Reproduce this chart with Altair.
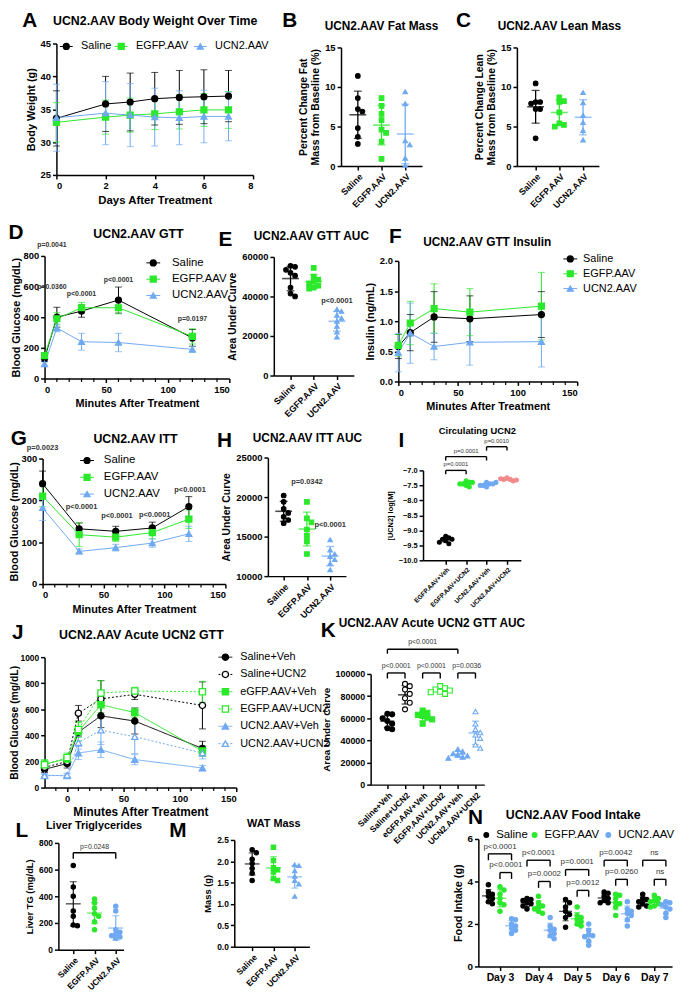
import altair as alt
import numpy as np
import pandas as pd

FONT = "Liberation Sans"
BLACK = "#000000"
GREEN = "#2be82b"
BLUE = "#6fa9f2"
SALMON = "#f28a8a"
WHITE = "#ffffff"

G3 = ["Saline", "EGFP.AAV", "UCN2.AAV"]
C3 = [BLACK, GREEN, BLUE]
S3 = ["circle", "square", "triangle-up"]

# ---------------- data ----------------
# A body weight
bw_days = [0, 2, 3, 4, 5, 6, 7]
bw_saline = [33.6, 35.8, 36.1, 36.6, 36.8, 36.9, 37.0]
bw_saline_sd = [4.2, 4.2, 4.4, 4.0, 4.1, 4.1, 3.9]
bw_egfp = [33.0, 33.8, 34.1, 34.3, 34.6, 34.9, 34.9]
bw_egfp_sd = [3.0, 2.6, 2.6, 2.4, 2.6, 2.5, 2.8]
bw_ucn2 = [33.7, 34.4, 34.1, 33.8, 33.7, 33.9, 33.9]
bw_ucn2_sd = [5.1, 4.8, 4.8, 4.4, 4.1, 4.0, 3.7]

# B fat mass
fat_saline = [11.4, 8.6, 7.2, 6.9, 4.8, 3.7, 2.8]
fat_egfp = [8.6, 7.6, 6.6, 5.8, 4.6, 4.2, 3.1, 0.9]
fat_ucn2 = [9.4, 7.9, 3.2, 2.7, 1.0, 0.1]

# C lean mass
lean_saline = [10.45, 8.1, 8.1, 7.9, 7.2, 7.2, 3.5]
lean_egfp = [8.7, 8.2, 8.1, 6.8, 5.4, 5.2, 5.0]
lean_ucn2 = [9.3, 8.0, 6.4, 5.5, 4.5, 3.3]

# D GTT
gtt_min = [0, 10, 30, 60, 120]
gtt_saline = [130, 400, 440, 512, 265]
gtt_saline_sd = [20, 65, 40, 85, 55]
gtt_egfp = [150, 390, 462, 462, 275]
gtt_egfp_sd = [20, 40, 35, 40, 50]
gtt_ucn2 = [95, 330, 240, 235, 190]
gtt_ucn2_sd = [15, 25, 55, 60, 20]
gtt_p = [(6, 870, "p=0.0041"), (6, 600, "p=0.0360"), (30, 550, "p<0.0001"),
         (60, 645, "p<0.0001"), (120, 387, "p=0.0197")]

# E GTT AUC
gauc_saline = [55500, 55000, 53500, 52000, 50500, 44500, 41500, 40000]
gauc_egfp = [54500, 50000, 48500, 47500, 46500, 45500, 44500, 44000]
gauc_ucn2 = [33500, 32500, 30500, 29000, 27500, 25000, 22000, 19500]
gauc_p = [(3, 35500, "p<0.0001")]

# F insulin
ins_min = [0, 10, 30, 60, 120]
ins_saline = [0.58, 0.81, 1.07, 1.04, 1.11]
ins_saline_sd = [0.2, 0.3, 0.42, 0.38, 0.38]
ins_egfp = [0.6, 0.97, 1.21, 1.15, 1.25]
ins_egfp_sd = [0.18, 0.36, 0.41, 0.39, 0.56]
ins_ucn2 = [0.48, 0.8, 0.58, 0.65, 0.66]
ins_ucn2_sd = [0.32, 0.5, 0.22, 0.38, 0.42]

# G ITT
itt_min = [0, 30, 60, 90, 120]
itt_saline = [240, 132, 126, 134, 185]
itt_saline_sd = [30, 14, 12, 14, 24]
itt_egfp = [210, 118, 112, 123, 155]
itt_egfp_sd = [25, 28, 10, 15, 22]
itt_ucn2 = [182, 78, 87, 98, 120]
itt_ucn2_sd = [30, 6, 8, 10, 18]
itt_p = [(0, 325, "p=0.0023"), (32, 184, "p<0.0001"), (61, 163, "p<0.0001"),
         (92, 165, "p<0.0001"), (121, 224, "p<0.0001")]

# H ITT AUC
iauc_saline = [20200, 19400, 18500, 18000, 17500, 17100, 16700]
iauc_egfp = [19400, 17300, 16800, 15900, 15100, 14400, 12800]
iauc_ucn2 = [14600, 13300, 12800, 12500, 12100, 11600, 10800]
iauc_p = [(2, 21400, "p=0.0342"), (3, 16000, "p<0.0001")]

# I circulating UCN2
circ_groups = ["EGFP.AAV+Veh", "EGFP.AAV+UCN2", "UCN2.AAV+Veh", "UCN2.AAV+UCN2"]
circ_egfp_veh = [-9.2, -9.25, -9.3, -9.35, -9.3, -9.45, -9.4]
circ_egfp_ucn2 = [-7.35, -7.4, -7.45, -7.5, -7.4, -7.55, -7.45]
circ_ucn2_veh = [-7.4, -7.45, -7.5, -7.55, -7.45, -7.5, -7.4]
circ_ucn2_ucn2 = [-7.25, -7.3, -7.3, -7.35, -7.28, -7.32]
circ_br = [(1, 2, -7.0, 0.13, "p=0.0001", -6.9), (1, 3, -6.54, 0.13, "p=0.0001", -6.44),
           (3, 4, -6.21, 0.13, "p=0.0010", -6.11)]

# J acute UCN2 GTT
j_groups = ["Saline+Veh", "Saline+UCN2", "eGFP.AAV+Veh", "EGFP.AAV+UCN2",
            "UCN2.AAV+Veh", "UCN2.AAV+UCN2"]
j_min = [-20, 0, 10, 30, 60, 120]
j_sal_veh = [140, 185, 425, 550, 510, 300]
j_sal_veh_sd = [25, 35, 30, 90, 100, 55]
j_sal_ucn2 = [155, 200, 570, 680, 715, 630]
j_sal_ucn2_sd = [20, 30, 60, 140, 40, 180]
j_egfp_veh = [180, 220, 430, 635, 575, 280]
j_egfp_veh_sd = [35, 30, 70, 60, 35, 40]
j_egfp_ucn2 = [175, 230, 445, 725, 740, 735]
j_egfp_ucn2_sd = [25, 35, 60, 95, 30, 80]
j_ucn2_veh = [95, 90, 265, 290, 215, 150]
j_ucn2_veh_sd = [15, 15, 50, 60, 40, 20]
j_ucn2_ucn2 = [90, 95, 345, 440, 390, 265]
j_ucn2_ucn2_sd = [10, 15, 50, 110, 130, 45]

# K acute AUC
k_groups = ["Saline+Veh", "Saline+UCN2", "eGFP.AAV+Veh", "EGFP.AAV+UCN2",
            "UCN2.AAV+Veh", "UCN2.AAV+UCN2"]
k_sal_veh = [64000, 63500, 60000, 57500, 55000, 51000, 50000]
k_sal_ucn2 = [91000, 89000, 86000, 82000, 78000, 74000, 68000]
k_egfp_veh = [67000, 65000, 63000, 62000, 60500, 59000, 55000]
k_egfp_ucn2 = [89000, 87000, 86000, 85000, 84000, 83500, 82000]
k_ucn2_veh = [32000, 30000, 28000, 27000, 26000, 25000, 24000]
k_ucn2_ucn2 = [66000, 55000, 50000, 47000, 45000, 42000, 36000, 33000]
k_br = [(1, 2, 100900, 5000, "p<0.0001", 104500), (3, 4, 100900, 5000, "p<0.0001", 104500),
        (5, 6, 100900, 5000, "p=0.0036", 104500), (1, 5, 122300, 4000, "p<0.0001", 126000)]

# L liver TG
tg_saline = [630, 470, 400, 290, 250, 185, 180]
tg_egfp = [380, 350, 310, 270, 250, 210, 150]
tg_ucn2 = [325, 290, 150, 130, 115, 105, 95, 85]
tg_br = [(1, 3, 726, 45, "p=0.0248", 750)]

# M WAT mass
wat_saline = [2.27, 2.2, 2.05, 1.95, 1.83, 1.72, 1.55]
wat_egfp = [2.33, 2.02, 1.85, 1.8, 1.75, 1.6, 1.55]
wat_ucn2 = [1.92, 1.9, 1.78, 1.65, 1.55, 1.47, 1.18]

# N food intake
fi_days = [3, 4, 5, 6, 7]
fi_saline = [[3.85, 3.5, 3.4, 3.3, 3.2, 3.05, 2.95],
             [3.2, 3.15, 3.1, 3.0, 2.95, 2.85, 2.7],
             [3.15, 3.0, 2.8, 2.6, 2.45, 2.3, 1.85],
             [3.5, 3.45, 3.3, 3.2, 3.1, 3.0, 3.0],
             [3.4, 3.2, 3.15, 3.05, 2.95, 2.85, 2.8]]
fi_egfp = [[3.75, 3.6, 3.4, 3.2, 3.0, 2.9, 2.6],
           [3.3, 3.0, 2.85, 2.8, 2.7, 2.6, 2.5],
           [2.8, 2.4, 2.3, 2.2, 2.1, 2.0, 1.9],
           [3.4, 3.35, 3.2, 3.0, 2.95, 2.8, 2.4],
           [3.35, 3.2, 3.1, 3.05, 2.95, 2.85, 2.8]]
fi_ucn2 = [[2.25, 2.2, 2.0, 1.9, 1.8, 1.7, 1.55],
           [2.3, 1.9, 1.75, 1.7, 1.55, 1.45, 1.3],
           [2.0, 1.7, 1.5, 1.45, 1.4, 1.2, 1.0],
           [3.05, 2.7, 2.6, 2.5, 2.4, 2.2, 1.9],
           [3.05, 3.0, 2.9, 2.8, 2.7, 2.5, 2.3]]
fi_top = [(5.3, 5.45, "p<0.0001"), (5.0, 5.15, "p<0.0001"), (4.56, 4.71, "p=0.0001"),
          (5.0, 5.15, "p=0.0042"), (5.0, 5.15, "ns")]
fi_low = [(4.42, 4.57, "p<0.0001"), (4.0, 4.15, "p=0.0002"), (3.58, 3.73, "p=0.0012"),
          (4.1, 4.25, "p=0.0260"), (4.1, 4.25, "ns")]

# ---------------- canvas / helpers ----------------
CW, CH = 676, 991   # drawing area (page minus the 8px top/left margin)
M0 = 8
ONE = pd.DataFrame({"a": [0]})

AW = dict(zip("ABCDEFGHIJKLMNOPQRSTUVWXYZ",
              [.667, .667, .722, .722, .667, .611, .778, .722, .278, .5, .667, .556, .833, .722, .778,
               .667, .778, .722, .667, .611, .722, .667, .944, .667, .667, .611]))
AW.update(dict(zip("abcdefghijklmnopqrstuvwxyz",
                   [.556, .556, .5, .556, .556, .278, .556, .556, .222, .222, .5, .222, .833, .556, .556,
                    .556, .556, .333, .5, .278, .556, .5, .722, .5, .5, .5])))
AW.update({c: .556 for c in "0123456789"})
AW.update({".": .278, "+": .584, " ": .278})


def tw(s, size):
    return sum(AW.get(c, 0.6) for c in s) * size


def label(text, x, y, size=12.5, weight="bold", color="black", align="center"):
    return alt.Chart(ONE).mark_text(text=text, fontSize=size, fontWeight=weight, font=FONT,
                                    color=color, align=align, baseline="middle").encode(
        x=alt.value(x - M0), y=alt.value(y - M0))


def frame(bx, xdom, ydom):
    l, t, w, h = bx
    x0, y0 = l - M0, t - M0
    xs = alt.Scale(domain=xdom, range=[x0, x0 + w], nice=False, zero=False)
    ys = alt.Scale(domain=ydom, range=[y0 + h, y0], nice=False, zero=False)
    return xs, ys, x0, y0 + h


def swarm(vals, cx, xpx, ypx, r):
    placed, xs = [], []
    for v in vals:
        x = cx
        for k in [0, 1, -1, 2, -2, 3, -3, 4, -4]:
            x = cx + k * r / xpx
            if all(((x - a) * xpx) ** 2 + ((v - b) * ypx) ** 2 >= (r * 0.95) ** 2 for a, b in placed):
                break
        placed.append((x, v))
        xs.append(x)
    return xs


def legend_block(names, strokes, fills, shapes, pos, dashes=None, size=11.5, seg=7, toff=15, psize=36,
                 line=True):
    df = pd.DataFrame({"g": names, "x": [p[0] - M0 for p in pos], "y": [p[1] - M0 for p in pos]})
    df["x1"], df["x2"], df["xt"] = df.x - seg, df.x + seg, df.x + toff
    xs = alt.Scale(domain=[0, CW], range=[0, CW], nice=False, zero=False)
    ys = alt.Scale(domain=[0, CH], range=[0, CH], nice=False, zero=False)

    def X(f):
        return alt.X(f, type="quantitative", scale=xs, axis=None)

    def Y(f):
        return alt.Y(f, type="quantitative", scale=ys, axis=None)

    col = alt.Color("g:N", scale=alt.Scale(domain=names, range=strokes), legend=None)
    layers = []
    if line:
        enc = dict(x=X("x1"), x2="x2:Q", y=Y("y"), color=col)
        if dashes:
            enc["strokeDash"] = alt.StrokeDash("g:N", scale=alt.Scale(domain=names, range=dashes), legend=None)
        layers.append(alt.Chart(df).mark_rule(strokeWidth=1.0).encode(**enc))
    layers.append(alt.Chart(df).mark_point(filled=True, size=psize, strokeWidth=1.3, opacity=1).encode(
        x=X("x"), y=Y("y"),
        fill=alt.Fill("g:N", scale=alt.Scale(domain=names, range=fills), legend=None),
        stroke=alt.Stroke("g:N", scale=alt.Scale(domain=names, range=strokes), legend=None),
        shape=alt.Shape("g:N", scale=alt.Scale(domain=names, range=shapes), legend=None)))
    layers.append(alt.Chart(df).mark_text(fontSize=size, font=FONT, color="black", align="left",
                                          baseline="middle").encode(x=X("xt"), y=Y("y"), text="g:N"))
    return alt.layer(*layers)


def hpos(names, x0, y, size, toff, gap):
    out, x = [], x0
    for n in names:
        out.append((x, y))
        x = x + toff + tw(n, size) + gap
    return out


def vpos(n, x, y0, dy):
    return [(x, y0 + i * dy) for i in range(n)]


def dot_panel(bx, items, names, strokes, fills, shapes, xdom, xvals, lexpr, ydom, yvals, ytitle,
              yfmt=None, brackets=(), bsize=7.5, notes=(), nsize=7.5, psize=22, r=4.6, mean_w=17, cap_w=8,
              xlab=9, xangle=-45, ylab=9.5, ytsize=10.5, lw=1.3, ytpad=4):
    l, t, w, h = bx
    xs_, ys_, ax_x, ax_y = frame(bx, xdom, ydom)
    xpx = w / (xdom[1] - xdom[0])
    ypx = h / (ydom[1] - ydom[0])
    pts, st = [], []
    for cx, vals, nm in items:
        xs = swarm(vals, cx, xpx, ypx, r)
        for x, v in zip(xs, vals):
            pts.append({"x": x, "y": v, "g": nm})
        a = np.array(vals, float)
        m, s = a.mean(), a.std(ddof=1)
        st.append({"x": cx, "m": m, "lo": m - s, "hi": m + s, "g": nm})
    pdf, sdf = pd.DataFrame(pts), pd.DataFrame(st)
    cdf = pd.concat([sdf.assign(y=sdf.lo), sdf.assign(y=sdf.hi)])
    xax = alt.Axis(orient="bottom", offset=ax_y - CH, values=xvals, labelExpr=lexpr, title=None,
                   labelAngle=xangle, labelFontSize=xlab)
    ykw = {"format": yfmt} if yfmt else {}
    yax = alt.Axis(orient="left", offset=-ax_x, values=yvals, title=ytitle, labelFontSize=ylab,
                   titleFontSize=ytsize, titlePadding=ytpad, **ykw)

    def X(f):
        return alt.X(f, type="quantitative", scale=xs_, axis=xax)

    def Y(f):
        return alt.Y(f, type="quantitative", scale=ys_, axis=yax)

    col = alt.Color("g:N", scale=alt.Scale(domain=names, range=strokes), legend=None)
    layers = [
        alt.Chart(sdf).mark_rule(strokeWidth=lw).encode(x=X("x"), y=Y("lo"), y2="hi:Q", color=col),
        alt.Chart(cdf).mark_tick(orient="horizontal", size=cap_w, thickness=lw).encode(
            x=X("x"), y=Y("y"), color=col),
        alt.Chart(sdf).mark_tick(orient="horizontal", size=mean_w, thickness=lw + 0.3).encode(
            x=X("x"), y=Y("m"), color=col),
        alt.Chart(pdf).mark_point(filled=True, size=psize, strokeWidth=1.1, opacity=1).encode(
            x=X("x"), y=Y("y"),
            fill=alt.Fill("g:N", scale=alt.Scale(domain=names, range=fills), legend=None),
            stroke=alt.Stroke("g:N", scale=alt.Scale(domain=names, range=strokes), legend=None),
            shape=alt.Shape("g:N", scale=alt.Scale(domain=names, range=shapes), legend=None)),
    ]
    if brackets:
        bdf = pd.DataFrame([{"x1": a, "x2": b, "y": y, "yl": y - lg, "t": tx, "xm": (a + b) / 2, "yt": yt}
                            for a, b, y, lg, tx, yt in brackets])
        layers += [
            alt.Chart(bdf).mark_rule(strokeWidth=1.4, color="black").encode(x=X("x1"), x2="x2:Q", y=Y("y")),
            alt.Chart(bdf).mark_rule(strokeWidth=1.4, color="black").encode(x=X("x1"), y=Y("y"), y2="yl:Q"),
            alt.Chart(bdf).mark_rule(strokeWidth=1.4, color="black").encode(x=X("x2"), y=Y("y"), y2="yl:Q"),
            alt.Chart(bdf).mark_text(fontSize=bsize, color="#333333", baseline="bottom").encode(
                x=X("xm"), y=Y("yt"), text="t:N"),
        ]
    if notes:
        ndf = pd.DataFrame([{"x": a, "y": b, "t": c} for a, b, c in notes])
        layers.append(alt.Chart(ndf).mark_text(fontSize=nsize, fontWeight="bold", color="#333333",
                                               baseline="bottom").encode(x=X("x"), y=Y("y"), text="t:N"))
    return alt.layer(*layers)


def line_panel(bx, xv, names, means, sds, strokes, fills, shapes, xdom, xvals, xtitle, ydom, yvals,
               ytitle, dashes=None, yfmt=None, notes=(), minor=None, psize=36, cap_w=7,
               lw=1.0, xtsize=11, ytsize=11, ytpad=4, ylab=9.5, nsize=7.5):
    xs_, ys_, ax_x, ax_y = frame(bx, xdom, ydom)
    rows = []
    for nm, ms, ss in zip(names, means, sds):
        for t, m, s in zip(xv, ms, ss):
            rows.append({"t": t, "m": m, "lo": m - s, "hi": m + s, "s": nm})
    df = pd.DataFrame(rows)
    caps = pd.concat([df.assign(y=df.lo), df.assign(y=df.hi)])
    xax = alt.Axis(orient="bottom", offset=ax_y - CH, values=xvals, title=xtitle, titleFontSize=xtsize)
    ykw = {"format": yfmt} if yfmt else {}
    yax = alt.Axis(orient="left", offset=-ax_x, values=yvals, title=ytitle, titleFontSize=ytsize,
                   titlePadding=ytpad, labelFontSize=ylab, **ykw)
    X = alt.X("t:Q", scale=xs_, axis=xax)

    def Y(f):
        return alt.Y(f, type="quantitative", scale=ys_, axis=yax)

    col = alt.Color("s:N", scale=alt.Scale(domain=names, range=strokes), legend=None)
    layers = [
        alt.Chart(df).mark_rule(strokeWidth=lw).encode(x=X, y=Y("lo"), y2="hi:Q", color=col),
        alt.Chart(caps).mark_tick(orient="horizontal", size=cap_w, thickness=lw).encode(
            x=X, y=Y("y"), color=col),
    ]
    lenc = dict(x=X, y=Y("m"), color=col, order="t:Q")
    if dashes:
        lenc["strokeDash"] = alt.StrokeDash("s:N", scale=alt.Scale(domain=names, range=dashes), legend=None)
    layers.append(alt.Chart(df).mark_line(strokeWidth=lw).encode(**lenc))
    layers.append(alt.Chart(df).mark_point(filled=True, size=psize, strokeWidth=1.3, opacity=1).encode(
        x=X, y=Y("m"),
        fill=alt.Fill("s:N", scale=alt.Scale(domain=names, range=fills), legend=None),
        stroke=alt.Stroke("s:N", scale=alt.Scale(domain=names, range=strokes), legend=None),
        shape=alt.Shape("s:N", scale=alt.Scale(domain=names, range=shapes), legend=None)))
    if minor:
        mdf = pd.DataFrame({"t": minor, "b": [ydom[0]] * len(minor)})
        layers.append(alt.Chart(mdf).mark_rule(strokeWidth=1.2, color="black", y2Offset=3.5).encode(
            x=X, y=Y("b"), y2="b:Q"))
    if notes:
        ndf = pd.DataFrame([{"t": a, "y": b, "txt": c} for a, b, c in notes])
        layers.append(alt.Chart(ndf).mark_text(fontSize=nsize, fontWeight="bold", color="#333333").encode(
            x=X, y=Y("y"), text="txt:N"))
    return alt.layer(*layers)


def arr_expr(names):
    return "[" + ",".join("'%s'" % n for n in names) + "][datum.value - 1]"


def cat_items(groups, names):
    return [(i + 1, g, n) for i, (g, n) in enumerate(zip(groups, names))]


MIN150 = [v for v in range(10, 150, 10) if v % 50]
MINJ = [v for v in range(-10, 150, 10) if v % 50]

# ---------------- panels ----------------
pA = line_panel((57, 38, 199, 133), bw_days, G3, [bw_saline, bw_egfp, bw_ucn2],
                [bw_saline_sd, bw_egfp_sd, bw_ucn2_sd], C3, C3, S3, [0, 8], [0, 2, 4, 6, 8],
                "Days After Treatment", [25, 45], [25, 30, 35, 40, 45], "Body Weight (g)", xtsize=11.5)
lA = legend_block(G3, C3, C3, S3, hpos(G3, 67, 41, 11, 15, 10), size=11, seg=6.5)

pB = dot_panel((345, 42, 82, 120), cat_items([fat_saline, fat_egfp, fat_ucn2], G3), G3, C3, C3, S3,
               [0.29, 3.71], [1, 2, 3], arr_expr(G3), [0, 15], [0, 5, 10, 15],
               ["Percent Change Fat", "Mass from Baseline (%)"])

pC = dot_panel((523, 42, 83, 120), cat_items([lean_saline, lean_egfp, lean_ucn2], G3), G3, C3, C3, S3,
               [0.21, 3.67], [1, 2, 3], arr_expr(G3), [0, 15], [0, 5, 10, 15],
               ["Percent Change Lean", "Mass from Baseline (%)"])

pD = line_panel((45, 253, 187, 124), gtt_min, G3, [gtt_saline, gtt_egfp, gtt_ucn2],
                [gtt_saline_sd, gtt_egfp_sd, gtt_ucn2_sd], C3, C3, S3, [0, 150], [0, 50, 100, 150],
                "Minutes After Treatment", [0, 800], [0, 200, 400, 600, 800], "Blood Glucose (mg/dL)",
                notes=gtt_p, minor=MIN150, ytpad=2, nsize=7)
lD = legend_block(G3, C3, C3, S3, vpos(3, 155, 260, 16.5), toff=19)

pE = dot_panel((277, 254, 81, 120), cat_items([gauc_saline, gauc_egfp, gauc_ucn2], G3), G3, C3, C3, S3,
               [0.28, 3.73], [1, 2, 3], arr_expr(G3), [0, 60000], [0, 20000, 40000, 60000],
               "Area Under Curve", yfmt="d", notes=gauc_p, nsize=7.5)

pF = line_panel((403, 258, 181, 122), ins_min, G3, [ins_saline, ins_egfp, ins_ucn2],
                [ins_saline_sd, ins_egfp_sd, ins_ucn2_sd], C3, C3, S3, [0, 150], [0, 50, 100, 150],
                "Minutes After Treatment", [0, 2], [0, 0.5, 1.0, 1.5, 2.0], "Insulin (ng/mL)",
                yfmt=".1f", minor=MIN150)
lF = legend_block(G3, C3, C3, S3, vpos(3, 577, 256, 15), size=11, toff=13)

pG = line_panel((43, 458, 185, 127), itt_min, G3, [itt_saline, itt_egfp, itt_ucn2],
                [itt_saline_sd, itt_egfp_sd, itt_ucn2_sd], C3, C3, S3, [0, 150], [0, 50, 100, 150],
                "Minutes After Treatment", [0, 300], [0, 100, 200, 300], "Blood Glucose (mg/dL)",
                notes=itt_p, minor=MIN150, ytpad=2)
lG = legend_block(G3, C3, C3, S3, vpos(3, 88, 460, 17), toff=17)

pH = dot_panel((271, 457, 79, 120), cat_items([iauc_saline, iauc_egfp, iauc_ucn2], G3), G3, C3, C3, S3,
               [0.32, 3.68], [1, 2, 3], arr_expr(G3), [10000, 25000], [10000, 15000, 20000, 25000],
               "Area Under Curve", yfmt="d", notes=iauc_p)

pI = dot_panel((428, 470, 99, 91), cat_items([circ_egfp_veh, circ_egfp_ucn2, circ_ucn2_veh, circ_ucn2_ucn2],
                                            circ_groups),
               circ_groups, [BLACK, GREEN, BLUE, SALMON], [BLACK, GREEN, BLUE, SALMON],
               ["circle"] * 4, [-0.11, 4.68], [1, 2, 3, 4], arr_expr(circ_groups), [-10, -7],
               [-10, -9.5, -9, -8.5, -8, -7.5, -7], "[UCN2] log[M]", yfmt=".1f", brackets=circ_br,
               bsize=6, psize=16, r=3.2, mean_w=12, cap_w=6, xlab=6.5, ylab=7.5, ytsize=7.5, lw=1.0)

J_COL = [BLACK, BLACK, GREEN, GREEN, BLUE, BLUE]
J_FILL = [BLACK, WHITE, GREEN, WHITE, BLUE, WHITE]
J_SHP = ["circle", "circle", "square", "square", "triangle-up", "triangle-up"]
J_DASH = [[1, 0], [2, 2], [1, 0], [2, 2], [1, 0], [2, 2]]
pJ = line_panel((45, 659, 194, 132), j_min, j_groups,
                [j_sal_veh, j_sal_ucn2, j_egfp_veh, j_egfp_ucn2, j_ucn2_veh, j_ucn2_ucn2],
                [j_sal_veh_sd, j_sal_ucn2_sd, j_egfp_veh_sd, j_egfp_ucn2_sd, j_ucn2_veh_sd, j_ucn2_ucn2_sd],
                J_COL, J_FILL, J_SHP, [-20, 150], [0, 50, 100, 150], "Minutes After Treatment",
                [0, 1000], [0, 200, 400, 600, 800, 1000], "Blood Glucose (mg/dL)", yfmt="d",
                dashes=J_DASH, psize=40, minor=MINJ, xtsize=12, ytsize=10.5, ytpad=0, ylab=8.5)
lJ = legend_block(j_groups, J_COL, J_FILL, J_SHP, vpos(6, 228, 659, 17.5), dashes=J_DASH, size=11,
                  toff=15, psize=40)

pK = dot_panel((375, 676, 115, 112),
               cat_items([k_sal_veh, k_sal_ucn2, k_egfp_veh, k_egfp_ucn2, k_ucn2_veh, k_ucn2_ucn2], k_groups),
               k_groups, J_COL, J_FILL, J_SHP, [0.05, 6.5], [1, 2, 3, 4, 5, 6], arr_expr(k_groups),
               [0, 100000], [0, 20000, 40000, 60000, 80000, 100000], "Area Under Curve", yfmt="d",
               brackets=k_br, bsize=7, psize=26, r=4.8, mean_w=14, cap_w=7, xlab=8.5, ylab=9, ytsize=10)

pL = dot_panel((59, 847, 66, 108), cat_items([tg_saline, tg_egfp, tg_ucn2], G3), G3, C3, C3, ["circle"] * 3,
               [0.3, 3.37], [1, 2, 3], arr_expr(G3), [0, 800], [0, 200, 400, 600, 800],
               "Liver TG (mg/dL)", brackets=tg_br, bsize=7, psize=20, r=4.2,
               mean_w=15, cap_w=7, xlab=8.5, ylab=8.5, ytsize=9.5, lw=1.1)

pM = dot_panel((237, 844, 76, 108), cat_items([wat_saline, wat_egfp, wat_ucn2], G3), G3, C3, C3, S3,
               [0.16, 3.69], [1, 2, 3], arr_expr(G3), [0, 2.5], [0, 0.5, 1.0, 1.5, 2.0, 2.5],
               "Mass (g)", yfmt=".1f", psize=20, r=4.2, mean_w=15, cap_w=7, xlab=8.5, ylab=8.5,
               ytsize=9.5, lw=1.1)

n_items = []
OFF = [-0.3, 0.0, 0.3]
for di, d in enumerate(fi_days):
    for gi, src in enumerate([fi_saline, fi_egfp, fi_ucn2]):
        n_items.append((d + OFF[gi], src[di], G3[gi]))
n_br = []
for di, d in enumerate(fi_days):
    y, yt, tx = fi_top[di]
    n_br.append((d - 0.3, d + 0.3, y, 0.3, tx, yt))
    y, yt, tx = fi_low[di]
    n_br.append((d, d + 0.3, y, 0.3, tx, yt))
pN = dot_panel((484, 843, 196, 129), n_items, G3, C3, C3, ["circle"] * 3, [2.44, 7.46], fi_days,
               "'Day ' + datum.value", [0, 6], [0, 2, 4, 6], "Food Intake (g)", brackets=n_br, bsize=8,
               psize=20, r=4.0, mean_w=13, cap_w=6, xlab=10.5, xangle=0, ylab=10, ytsize=11, lw=1.1)
lN = legend_block(G3, C3, C3, ["circle"] * 3, hpos(G3, 492, 839, 11.5, 10, 7), size=11.5, toff=10,
                  psize=22, line=False)

texts = [
    label("UCN2.AAV Body Weight Over Time", 157, 15), label("A", 30, 15, 21),
    label("UCN2.AAV Fat Mass", 386, 20, 12), label("B", 293, 15, 21),
    label("UCN2.AAV Lean Mass", 566, 20, 12), label("C", 469, 15, 21),
    label("UCN2.AAV GTT", 140, 231), label("D", 16, 230, 21),
    label("UCN2.AAV GTT AUC", 315, 233, 12), label("E", 228, 237, 21),
    label("UCN2.AAV GTT Insulin", 493, 239, 12), label("F", 400, 234, 21),
    label("UCN2.AAV ITT", 137, 438), label("G", 19, 438, 21),
    label("UCN2.AAV ITT AUC", 311, 437, 12), label("H", 227, 440, 21),
    label("Circulating UCN2", 483, 430, 9.5), label("I", 406, 440, 21),
    label("UCN2.AAV Acute UCN2 GTT", 143, 637), label("J", 18, 635, 21),
    label("UCN2.AAV Acute UCN2 GTT AUC", 437, 624, 12), label("K", 332, 633, 21),
    label("Liver Triglycerides", 95, 830, 11), label("L", 22, 835, 21),
    label("WAT Mass", 277, 828, 11), label("M", 180, 835, 21),
    label("UCN2.AAV Food Intake", 580, 819), label("N", 481, 822, 21),
]

chart = alt.layer(pA, pB, pC, pD, pE, pF, pG, pH, pI, pJ, pK, pL, pM, pN,
                  lA, lD, lF, lG, lJ, lN, *texts).resolve_scale(
    x="independent", y="independent", color="independent", fill="independent",
    stroke="independent", shape="independent", strokeDash="independent"
).resolve_axis(x="independent", y="independent").properties(
    width=CW, height=CH, padding=0, background="white",
    autosize=alt.AutoSizeParams(type="none", contains="padding")
).configure_view(stroke=None).configure_axis(
    domainColor="black", domainWidth=1.5, tickColor="black", tickWidth=1.5, tickSize=4,
    labelFont=FONT, labelFontWeight="bold", labelColor="black", labelFontSize=9.5, labelPadding=2,
    titleFont=FONT, titleFontWeight="bold", titleColor="black", titleFontSize=11, grid=False,
    labelOverlap=False
).configure_text(font=FONT)

chart.save("out.html", embed_options={"renderer": "svg", "actions": False})
